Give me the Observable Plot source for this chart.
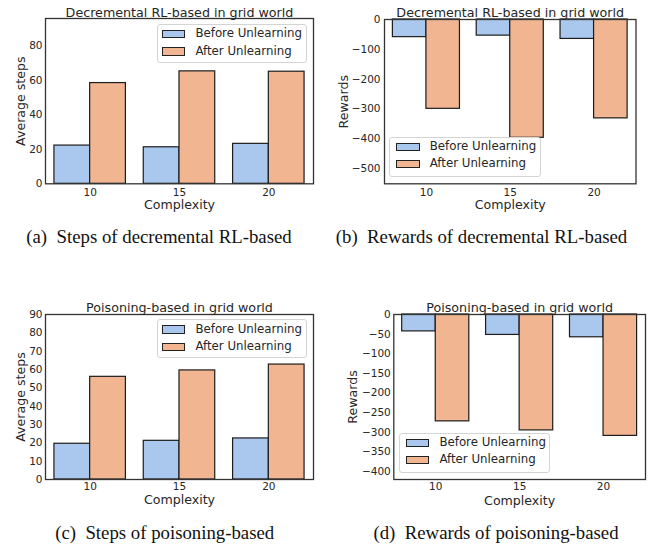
<!DOCTYPE html>
<html>
<head>
<meta charset="utf-8">
<script src="https://cdn.jsdelivr.net/npm/d3@7"></script>
<script src="https://cdn.jsdelivr.net/npm/@observablehq/plot@0.6"></script>
<style>
  html, body { margin: 0; padding: 0; background: #fff; }
  #page { position: relative; width: 657px; height: 545px; overflow: hidden; background: #fff; }
  .panel { position: absolute; }
  .legend { position: absolute; box-sizing: border-box; border: 1px solid #d4d4d4; border-radius: 3px; background: rgba(255,255,255,0.85); font-family: "DejaVu Sans", sans-serif; font-size: 11.8px; color: #262626; }
  .legend .row { position: absolute; left: 0; height: 17.3px; display: flex; align-items: center; white-space: nowrap; line-height: 1; }
  .legend .sw { box-sizing: border-box; width: 23.7px; height: 8.4px; border: 1.1px solid #222; margin-right: 10px; }
  .caption { position: absolute; width: 440px; text-align: center; font-family: "Liberation Serif", "Times New Roman", serif; font-size: 18.8px; line-height: 1; color: #111; white-space: pre; }
</style>
</head>
<body>
<div id="page"></div>
<script>
// ---- data ----
const complexity = [10, 15, 20];
const series = ["Before Unlearning", "After Unlearning"];
const colors = ["#aac8ee", "#f1b691"];

const stepsDecBefore = [22.2, 21.2, 23.2];
const stepsDecAfter = [58.5, 65.3, 65.1];
const rewardsDecBefore = [-59, -54, -65];
const rewardsDecAfter = [-299, -396, -331];
const stepsPoisBefore = [19.5, 21.1, 22.4];
const stepsPoisAfter = [56, 59.5, 62.7];
const rewardsPoisBefore = [-43, -52, -58];
const rewardsPoisAfter = [-272, -295, -309];

const ticksStepsDec = [0, 20, 40, 60, 80];
const ticksRewardsDec = [0, -100, -200, -300, -400, -500];
const ticksStepsPois = [0, 10, 20, 30, 40, 50, 60, 70, 80, 90];
const ticksRewardsPois = [0, -50, -100, -150, -200, -250, -300, -350, -400];

const titles = ["Decremental RL-based in grid world", "Poisoning-based in grid world"];
const yLabels = ["Average steps", "Rewards"];
const xLabel = "Complexity";
const captions = ["(a)  Steps of decremental RL-based", "(b)  Rewards of decremental RL-based",
                  "(c)  Steps of poisoning-based", "(d)  Rewards of poisoning-based"];

// ---- layout ----
const panels = [
  {before: stepsDecBefore, after: stepsDecAfter, ticks: ticksStepsDec, domain: [0, 96], title: titles[0], yLabel: yLabels[0],
   left: 0, top: 0, width: 330, height: 215, mL: 45, mR: 17, mT: 18, mB: 31.7, yDx: -24.3, xDy: 25.3, tDy: -2, tickPad: 3, xPad: 4.5,
   legend: {left: 156.7, top: 24, width: 150, height: 39.3, sw: 4}},
  {before: rewardsDecBefore, after: rewardsDecAfter, ticks: ticksRewardsDec, domain: [-550, 0], title: titles[0], yLabel: yLabels[1],
   left: 330, top: 0, width: 327, height: 215, mL: 54, mR: 21.5, mT: 19, mB: 31.7, yDx: -40.7, xDy: 25.3, tDy: -3, tickPad: 4, xPad: 4.5,
   legend: {left: 389.3, top: 136.7, width: 151.4, height: 40, sw: 5.7}},
  {before: stepsPoisBefore, after: stepsPoisAfter, ticks: ticksStepsPois, domain: [0, 90], title: titles[1], yLabel: yLabels[0],
   left: 0, top: 290, width: 330, height: 220, mL: 45, mR: 17, mT: 24, mB: 31, yDx: -24.3, xDy: 24.8, tDy: -3, tickPad: 3, xPad: 3,
   legend: {left: 156.7, top: 319.3, width: 150, height: 39, sw: 4}},
  {before: rewardsPoisBefore, after: rewardsPoisAfter, ticks: ticksRewardsPois, domain: [-420, 0], title: titles[1], yLabel: yLabels[1],
   left: 330, top: 290, width: 327, height: 220, mL: 63.3, mR: 12, mT: 24, mB: 31, yDx: -40.6, xDy: 25, tDy: -3, tickPad: 3, xPad: 3,
   legend: {left: 399, top: 432.7, width: 151, height: 40, sw: 5.7}}
];
const captionPos = [{cx: 159, base: 244}, {cx: 481.5, base: 244}, {cx: 164.7, base: 540}, {cx: 496, base: 540}];

const fmt = d => d < 0 ? "\u2212" + Math.abs(d) : String(d);
const textColor = "#262626";
const page = document.getElementById("page");

panels.forEach(p => {
  const rows = complexity.flatMap((c, i) => series.map((s, j) => ({i, j, c, s, v: j === 0 ? p.before[i] : p.after[i]})));
  const chart = Plot.plot({
    width: p.width, height: p.height,
    marginLeft: p.mL, marginRight: p.mR, marginTop: p.mT, marginBottom: p.mB,
    style: {fontFamily: "DejaVu Sans", fontSize: "10.5px", color: textColor, background: "transparent"},
    x: {type: "linear", domain: [-0.5, 2.5], axis: null},
    y: {domain: p.domain, axis: null},
    color: {domain: series, range: colors},
    marks: [
      Plot.rectY(rows, {x1: d => d.i - 0.4 + 0.4 * d.j, x2: d => d.i + 0.4 * d.j, y1: 0, y2: "v",
                        fill: "s", stroke: "#1c1c1c", strokeWidth: 1.2}),
      Plot.axisX({ticks: complexity.map((c, i) => i), tickFormat: i => complexity[i], tickSize: 0, tickPadding: p.xPad,
                  label: null, fontSize: 10.5, fill: textColor}),
      Plot.axisY({ticks: p.ticks, tickFormat: fmt, tickSize: 0, tickPadding: p.tickPad, label: null, fontSize: 10.5, fill: textColor}),
      Plot.frame({stroke: "#333", strokeWidth: 1.3}),
      Plot.text([p.title], {text: d => d, frameAnchor: "top", dy: p.tDy, lineAnchor: "bottom", fontSize: 12.7, fill: textColor}),
      Plot.text([p.yLabel], {text: d => d, frameAnchor: "left", dx: p.yDx, rotate: -90, lineAnchor: "middle", textAnchor: "middle", fontSize: 12.6, fill: textColor}),
      Plot.text([xLabel], {text: d => d, frameAnchor: "bottom", dy: p.xDy, lineAnchor: "bottom", fontSize: 12.6, fill: textColor})
    ]
  });
  const holder = document.createElement("div");
  holder.className = "panel";
  holder.style.left = p.left + "px";
  holder.style.top = p.top + "px";
  holder.appendChild(chart);
  page.appendChild(holder);

  const lg = document.createElement("div");
  lg.className = "legend";
  Object.assign(lg.style, {left: p.legend.left + "px", top: p.legend.top + "px", width: p.legend.width + "px", height: p.legend.height + "px"});
  series.forEach((s, j) => {
    const row = document.createElement("div");
    row.className = "row";
    row.style.top = (0.6 + j * 17.3) + "px";
    row.style.paddingLeft = p.legend.sw + "px";
    const sw = document.createElement("div");
    sw.className = "sw";
    sw.style.background = colors[j];
    const tx = document.createElement("span");
    tx.textContent = s;
    row.appendChild(sw);
    row.appendChild(tx);
    lg.appendChild(row);
  });
  page.appendChild(lg);
});

captions.forEach((c, k) => {
  const el = document.createElement("div");
  el.className = "caption";
  el.textContent = c;
  el.style.left = (captionPos[k].cx - 220) + "px";
  el.style.top = (captionPos[k].base - 15.7) + "px";
  page.appendChild(el);
});
</script>
</body>
</html>
